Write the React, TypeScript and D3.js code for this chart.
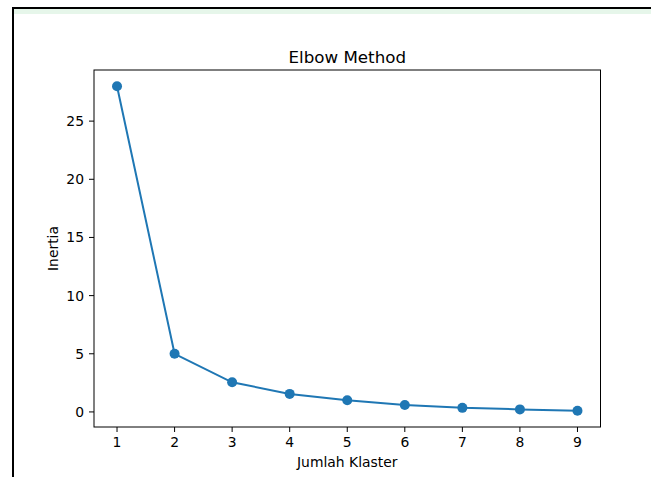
import React from "react";
import * as d3 from "d3";

const clusters = [1, 2, 3, 4, 5, 6, 7, 8, 9];
const inertia = [28.0, 5.0, 2.55, 1.55, 1.0, 0.6, 0.35, 0.22, 0.1];
const yTicks = [0, 5, 10, 15, 20, 25];
const xTicks = [1, 2, 3, 4, 5, 6, 7, 8, 9];
const title = "Elbow Method";
const xLabel = "Jumlah Klaster";
const yLabel = "Inertia";

export default function App() {
  const W = 651, H = 477;
  const left = 94, right = 600.5, top = 70, bottom = 427;
  const x = d3.scaleLinear().domain([0.6, 9.4]).range([left, right]);
  const yMin = d3.min(inertia)!, yMax = d3.max(inertia)!;
  const pad = (yMax - yMin) * 0.05;
  const y = d3.scaleLinear().domain([yMin - pad, yMax + pad]).range([bottom, top]);
  const line = d3.line<number>().x((_, i) => x(clusters[i])).y((d) => y(d));
  const font = "DejaVu Sans, sans-serif";
  const fs = 13.9;
  return (
    <svg width={W} height={H} style={{ position: "absolute", left: 0, top: 0 }} fontFamily={font}>
      <rect x={0} y={0} width={W} height={H} fill="#fff" />
      <rect x={13} y={9} width={W - 13} height={5} fill="#e6f6ea" />
      <line x1={13} x2={W} y1={8} y2={8} stroke="#000" strokeWidth={2} />
      <line x1={13} x2={13} y1={7} y2={H} stroke="#000" strokeWidth={2} />
      <text x={(left + right) / 2} y={62.5} textAnchor="middle" fontSize={16.7} fill="#000">{title}</text>
      <path d={line(inertia) || ""} fill="none" stroke="#1f77b4" strokeWidth={2} />
      {inertia.map((v, i) => (
        <circle key={i} cx={x(clusters[i])} cy={y(v)} r={5} fill="#1f77b4" />
      ))}
      <rect x={left} y={top} width={right - left} height={bottom - top} fill="none" stroke="#000" strokeWidth={1} />
      {xTicks.map((t) => (
        <g key={t}>
          <line x1={x(t)} x2={x(t)} y1={bottom} y2={bottom + 5} stroke="#000" />
          <text x={x(t)} y={bottom + 20} textAnchor="middle" fontSize={fs} fill="#000">{t}</text>
        </g>
      ))}
      {yTicks.map((t) => (
        <g key={t}>
          <line x1={left - 5} x2={left} y1={y(t)} y2={y(t)} stroke="#000" />
          <text x={left - 10} y={y(t) + 5} textAnchor="end" fontSize={fs} fill="#000">{t}</text>
        </g>
      ))}
      <text x={(left + right) / 2} y={466.5} textAnchor="middle" fontSize={fs} fill="#000">{xLabel}</text>
      <text transform={`translate(58,${(top + bottom) / 2}) rotate(-90)`} textAnchor="middle" fontSize={fs} fill="#000">{yLabel}</text>
    </svg>
  );
}
